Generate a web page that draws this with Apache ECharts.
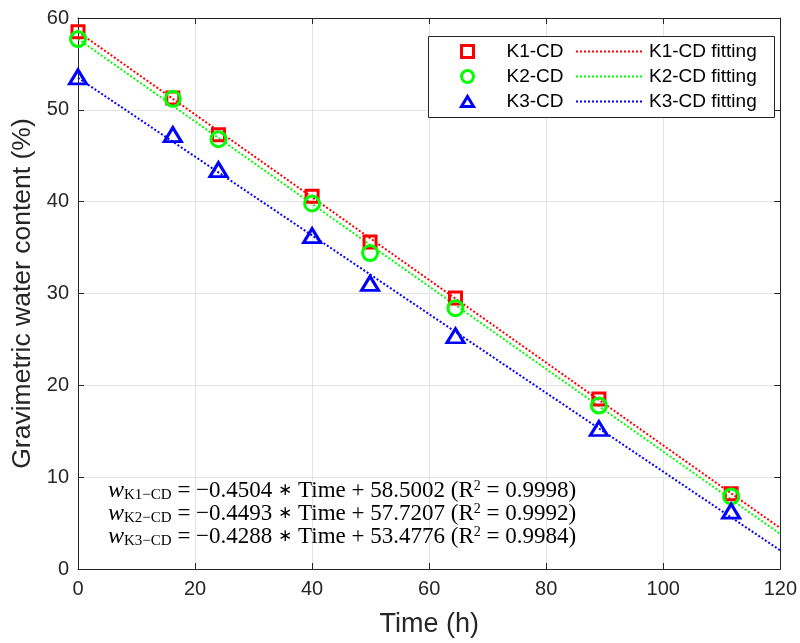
<!DOCTYPE html>
<html>
<head>
<meta charset="utf-8">
<script src="https://cdn.jsdelivr.net/npm/echarts@6/dist/echarts.min.js"></script>
<style>
  html, body { margin: 0; padding: 0; background: #fff; }
  #chart { width: 800px; height: 643px; }
</style>
</head>
<body>
<div id="chart"></div>
<script>
// measured times (h)
const times = [0, 16.2, 24, 40, 49.9, 64.5, 89, 111.6];

// gravimetric water content (%)
const k1 = [58.5, 51.3, 47.3, 40.6, 35.6, 29.5, 18.5, 8.2];
const k2 = [57.7, 51.2, 46.8, 39.8, 34.4, 28.4, 17.8, 7.9];
const k3 = [53.6, 47.3, 43.5, 36.3, 31.1, 25.4, 15.3, 6.3];

// fitted lines, value at t = 0 and t = 120
const fitX = [0, 120];
const fitK1 = [58.5002, 4.4522];
const fitK2 = [57.7207, 3.8047];
const fitK3 = [53.4776, 2.0216];

const seriesNames = ["K1-CD", "K2-CD", "K3-CD"];
const colors = ["#ff0000", "#00ff00", "#0000ff"];
const symbols = ["rect", "circle", "triangle"];
const legendIcons = ["path://M0,0L10,0L10,10L0,10Z", "circle", "path://M6,0L12,10L0,10Z"];
const symbolSizes = [[12, 12], [15, 15], [17, 14]];

// equation text pieces
const eqSub = ["K1\u2212CD", "K2\u2212CD", "K3\u2212CD"];
const eqSlope = ["0.4504", "0.4493", "0.4288"];
const eqIntercept = ["58.5002", "57.7207", "53.4776"];
const eqR2 = ["0.9998", "0.9992", "0.9984"];

const xTicks = { min: 0, max: 120, interval: 20 };
const yTicks = { min: 0, max: 60, interval: 10 };

const chart = echarts.init(document.getElementById("chart"), null, { renderer: "canvas" });

const axisColor = "#262626";
const font = "Liberation Sans";
const serif = "Liberation Serif";

const measured = [k1, k2, k3];
const fits = [fitK1, fitK2, fitK3];

const series = [];
seriesNames.forEach((name, i) => {
  series.push({
    name: name + " fitting",
    type: "line",
    data: fitX.map((x, j) => [x, fits[i][j]]),
    symbol: "none",
    lineStyle: { color: colors[i], width: 2, type: [2, 2] },
    itemStyle: { color: colors[i] },
    z: 2,
    silent: true,
  });
});
seriesNames.forEach((name, i) => {
  series.push({
    name: name,
    type: "scatter",
    data: times.map((t, j) => [t, measured[i][j]]),
    symbol: symbols[i],
    symbolSize: symbolSizes[i],
    itemStyle: { color: "rgba(0,0,0,0)", borderColor: colors[i], borderWidth: 3, opacity: 1 },
    z: 3,
  });
});

// markers column and fitted-line column of the legend
const markerLegend = seriesNames.map((name, i) => ({
  name: name,
  icon: legendIcons[i],
  itemStyle: { color: "rgba(0,0,0,0)", borderColor: colors[i], borderWidth: 3, opacity: 1 },
}));
const lineLegend = seriesNames.map((name) => ({
  name: name + " fitting",
  itemStyle: { color: "rgba(0,0,0,0)", borderColor: "rgba(0,0,0,0)", borderWidth: 0 },
}));

const eqText = eqSub.map((s, i) =>
  `{w|w}{sub|${s}}{t| = \u2212${eqSlope[i]} }{op|\u2217}{t| Time + ${eqIntercept[i]} (R}{sup|2}{t| = ${eqR2[i]})}`
).join("\n");

const legendCommon = {
  orient: "vertical",
  top: 42,
  padding: 0,
  itemHeight: 12,
  itemGap: 6,
  symbolKeepAspect: true,
  selectedMode: false,
  textStyle: { fontFamily: font, fontSize: 19, color: "#000" },
};

chart.setOption({
  backgroundColor: "#fff",
  animation: false,
  grid: { left: 78, right: 18, top: 18, bottom: 68 },
  xAxis: [
    {
      type: "value",
      min: xTicks.min, max: xTicks.max, interval: xTicks.interval,
      name: "Time (h)",
      nameLocation: "middle",
      nameGap: 42,
      nameTextStyle: { fontFamily: font, fontSize: 27, color: axisColor },
      axisLine: { onZero: false, lineStyle: { color: axisColor, width: 1 } },
      axisTick: { inside: true, length: 6, lineStyle: { color: axisColor } },
      axisLabel: { fontFamily: font, fontSize: 20, color: axisColor, margin: 10 },
      splitLine: { show: true, lineStyle: { color: "#e3e3e3", width: 1 } },
    },
    {
      type: "value",
      position: "top",
      min: xTicks.min, max: xTicks.max, interval: xTicks.interval,
      axisLine: { onZero: false, lineStyle: { color: axisColor, width: 1 } },
      axisTick: { inside: true, length: 6, lineStyle: { color: axisColor } },
      axisLabel: { show: false },
      splitLine: { show: false },
    },
  ],
  yAxis: [
    {
      type: "value",
      min: yTicks.min, max: yTicks.max, interval: yTicks.interval,
      name: "Gravimetric water content (%)",
      nameLocation: "middle",
      nameGap: 42,
      nameTextStyle: { fontFamily: font, fontSize: 26.5, color: axisColor },
      axisLine: { onZero: false, lineStyle: { color: axisColor, width: 1 } },
      axisTick: { inside: true, length: 6, lineStyle: { color: axisColor } },
      axisLabel: { fontFamily: font, fontSize: 20, color: axisColor, margin: 9 },
      splitLine: { show: true, lineStyle: { color: "#e3e3e3", width: 1 } },
    },
    {
      type: "value",
      position: "right",
      min: yTicks.min, max: yTicks.max, interval: yTicks.interval,
      axisLine: { onZero: false, lineStyle: { color: axisColor, width: 1 } },
      axisTick: { inside: true, length: 6, lineStyle: { color: axisColor } },
      axisLabel: { show: false },
      splitLine: { show: false },
    },
  ],
  legend: [
    Object.assign({}, legendCommon, {
      data: markerLegend,
      left: 460,
      itemWidth: 12,
      textStyle: { fontFamily: font, fontSize: 19, color: "#000", padding: [0, 0, 0, 28] },
    }),
    Object.assign({}, legendCommon, {
      data: lineLegend,
      left: 575,
      itemWidth: 68,
    }),
  ],
  graphic: [
    {
      type: "rect",
      shape: { x: 428.5, y: 36.5, width: 346, height: 81 },
      style: { fill: "#fff", stroke: axisColor, lineWidth: 1 },
      z: 3,
    },
    {
      type: "text",
      left: 108,
      top: 479,
      z: 10,
      style: {
        text: eqText,
        fill: "#000",
        font: "23px 'Liberation Serif'",
        lineHeight: 23,
        rich: {
          w: { fontFamily: serif, fontStyle: "italic", fontSize: 24, lineHeight: 23 },
          sub: { fontFamily: serif, fontSize: 15, verticalAlign: "bottom", padding: [7, 0, 0, 0], lineHeight: 23 },
          t: { fontFamily: serif, fontSize: 23, lineHeight: 23 },
          op: { fontFamily: "DejaVu Sans", fontSize: 17, lineHeight: 23 },
          sup: { fontFamily: serif, fontSize: 14, verticalAlign: "top", padding: [0, 0, 8, 0], lineHeight: 23 },
        },
      },
    },
  ],
  series: series,
});
</script>
</body>
</html>
